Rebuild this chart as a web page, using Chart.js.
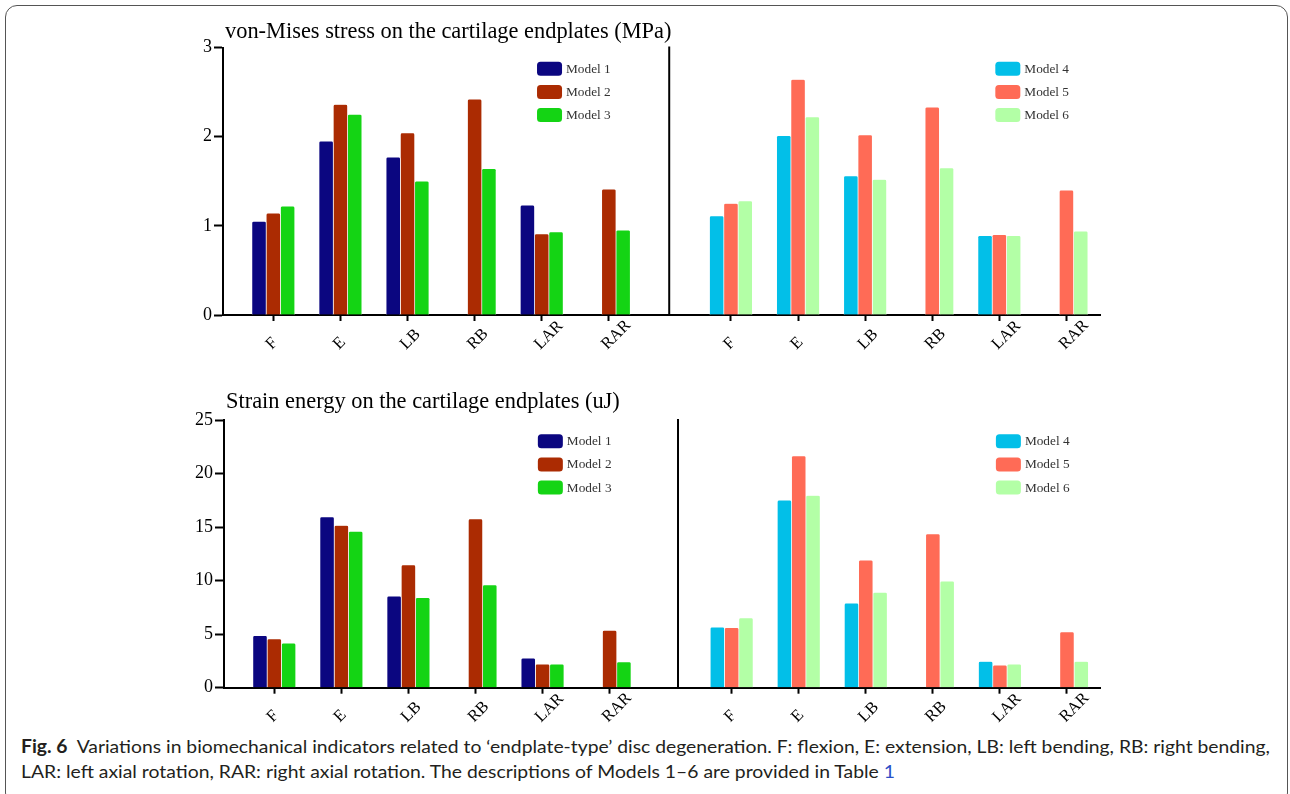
<!DOCTYPE html>
<html>
<head>
<meta charset="utf-8">
<script src="https://cdn.jsdelivr.net/npm/chart.js@4.4.1/dist/chart.umd.min.js"></script>
<style>
  html, body { margin: 0; padding: 0; background: #fff; }
  #page { position: relative; width: 1290px; height: 794px; overflow: hidden; }
  #frame { position: absolute; left: 5px; top: 5px; width: 1283px; height: 800px;
           border: 1.5px solid #555; border-radius: 12px; box-sizing: border-box; }
  canvas { position: absolute; left: 0; }
  #stressChart { top: 0; }
  #strainChart { top: 372px; }
  .cap { position: absolute; left: 21px; white-space: nowrap; line-height: 25px;
         font-family: Lato, "Noto Sans", sans-serif; font-size: 18px; color: #231f20;
         transform-origin: 0 50%; }
</style>
</head>
<body>
<div id="page">
  <div id="frame"></div>
  <canvas id="stressChart" width="1290" height="372"></canvas>
  <canvas id="strainChart" width="1290" height="360"></canvas>
  <div class="cap" id="cap1" data-w="1249" style="top:734px"><b>Fig. 6</b>&nbsp;&nbsp;Variations in biomechanical indicators related to ‘endplate-type’ disc degeneration. F: flexion, E: extension, LB: left bending, RB: right bending,</div>
  <div class="cap" id="cap2" data-w="874" style="top:759px">LAR: left axial rotation, RAR: right axial rotation. The descriptions of Models 1–6 are provided in Table <span style="color:#2b4fc7">1</span></div>
</div>
<script>
  // ── 数据 ──
  const CATEGORIES  = ['F', 'E', 'LB', 'RB', 'LAR', 'RAR'];
  const MODEL_NAMES = ['Model 1', 'Model 2', 'Model 3', 'Model 4', 'Model 5', 'Model 6'];

  const STRESS_TITLE = 'von-Mises stress on the cartilage endplates (MPa)';
  const STRESS_TICKS = [0, 1, 2, 3];
  const STRESS_M1 = [1.05, 1.95, 1.77, null, 1.23, null];
  const STRESS_M2 = [1.14, 2.36, 2.04, 2.42, 0.91, 1.41];
  const STRESS_M3 = [1.22, 2.25, 1.50, 1.64, 0.93, 0.95];
  const STRESS_M4 = [1.11, 2.01, 1.56, null, 0.89, null];
  const STRESS_M5 = [1.25, 2.64, 2.02, 2.33, 0.90, 1.40];
  const STRESS_M6 = [1.28, 2.22, 1.52, 1.65, 0.89, 0.94];

  const STRAIN_TITLE = 'Strain energy on the cartilage endplates (uJ)';
  const STRAIN_TICKS = [0, 5, 10, 15, 20, 25];
  const STRAIN_M1 = [4.85, 15.95, 8.55, null, 2.75, null];
  const STRAIN_M2 = [4.55, 15.15, 11.45, 15.75, 2.20, 5.35];
  const STRAIN_M3 = [4.15, 14.60, 8.40, 9.60, 2.20, 2.40];
  const STRAIN_M4 = [5.65, 17.50, 7.90, null, 2.45, null];
  const STRAIN_M5 = [5.60, 21.65, 11.90, 14.35, 2.10, 5.20];
  const STRAIN_M6 = [6.50, 17.95, 8.90, 9.95, 2.20, 2.45];

  // ── 样式 / 布局 ──
  const MODEL_COLORS = ['#0b0680', '#ab2b02', '#14d414', '#02bfe8', '#ff6b56', '#b3ffa6'];
  const SERIF = '"Liberation Serif", "Times New Roman", serif';
  const LEFT_X0 = 0, RIGHT_X0 = 6.82;       // 左右两组第一个类别的位置
  const X_MIN = -0.75, X_MAX = 12.32;
  const LEGEND_X = [3.93, 10.76];

  Chart.defaults.font.family = SERIF;

  function tickPositions() {
    return CATEGORIES.map((_, i) => LEFT_X0 + i).concat(CATEGORIES.map((_, i) => RIGHT_X0 + i));
  }

  function makeDatasets(series) {
    return series.map((vals, m) => ({
      label: MODEL_NAMES[m],
      stack: 'slot' + (m % 3),
      data: CATEGORIES.map((c, i) => ({ x: (m < 3 ? LEFT_X0 : RIGHT_X0) + i, y: vals[i] })),
      backgroundColor: MODEL_COLORS[m],
      borderColor: 'rgba(255,255,255,0.85)',
      borderWidth: { left: 0.7, right: 0.7, top: 0.6, bottom: 0 },
      borderRadius: { topLeft: 2, topRight: 2 },
      borderSkipped: 'start',
      barThickness: 14.3,
    }));
  }

  // ── 标题、分隔线、x 轴标签、图例 ──
  const panelDecor = {
    id: 'panelDecor',
    afterDraw(chart, args, opts) {
      const { ctx, chartArea, scales: { x } } = chart;
      ctx.save();

      const dx = x.getPixelForValue(opts.divider);
      ctx.strokeStyle = '#000';
      ctx.lineWidth = 2;
      ctx.beginPath();
      ctx.moveTo(dx, chartArea.top - 1);
      ctx.lineTo(dx, chartArea.bottom);
      ctx.stroke();

      ctx.fillStyle = '#000';
      ctx.font = '22.4px ' + SERIF;
      ctx.textAlign = 'left';
      ctx.textBaseline = 'alphabetic';
      ctx.fillText(opts.title, chartArea.left + 2, chartArea.top - opts.titleGap);

      ctx.font = '16.5px ' + SERIF;
      x.ticks.forEach((t, i) => {
        const px = x.getPixelForValue(t.value);
        ctx.save();
        ctx.translate(px - 1.5, chartArea.bottom + 35);
        ctx.rotate(-Math.PI / 4);
        ctx.fillText(CATEGORIES[i % CATEGORIES.length], 0, 0);
        ctx.restore();
      });

      ctx.font = '13.3px ' + SERIF;
      ctx.textBaseline = 'middle';
      LEGEND_X.forEach((lv, g) => {
        const lx = x.getPixelForValue(lv);
        for (let k = 0; k < 3; k++) {
          const ds = chart.data.datasets[g * 3 + k];
          const cy = chartArea.top + 21.2 + k * 23.2;
          ctx.fillStyle = ds.backgroundColor;
          ctx.beginPath();
          ctx.roundRect(lx, cy - 7, 25, 14, 3.5);
          ctx.fill();
          ctx.fillStyle = '#333';
          ctx.fillText(ds.label, lx + 29, cy + 0.5);
        }
      });
      ctx.restore();
    }
  };

  function makeChart(id, cfg) {
    return new Chart(document.getElementById(id), {
      type: 'bar',
      data: { datasets: makeDatasets(cfg.series) },
      options: {
        responsive: false,
        animation: false,
        layout: { padding: cfg.padding },
        plugins: {
          legend: { display: false },
          tooltip: { enabled: false },
          panelDecor: { title: cfg.title, titleGap: cfg.titleGap, divider: cfg.divider },
        },
        scales: {
          x: {
            type: 'linear',
            min: X_MIN,
            max: X_MAX,
            offset: false,
            afterBuildTicks: s => { s.ticks = tickPositions().map(v => ({ value: v })); },
            afterFit: s => { s.height = 10; },
            ticks: { display: false },
            grid: { display: true, drawOnChartArea: false, drawTicks: true, tickLength: 6,
                    tickColor: '#000', tickWidth: 2, offset: false },
            border: { display: true, color: '#000', width: 2 },
          },
          y: {
            min: 0,
            max: cfg.ticks[cfg.ticks.length - 1],
            stacked: false,
            afterBuildTicks: s => { s.ticks = cfg.ticks.map(v => ({ value: v })); },
            afterFit: s => { s.width = 50; },
            ticks: { color: '#000', padding: 2, font: { size: 18, family: SERIF } },
            grid: { display: true, drawOnChartArea: false, drawTicks: true, tickLength: 9,
                    tickColor: '#000', tickWidth: 2 },
            border: { display: true, color: '#000', width: 2 },
          },
        },
      },
      plugins: [panelDecor],
    });
  }

  makeChart('stressChart', {
    series: [STRESS_M1, STRESS_M2, STRESS_M3, STRESS_M4, STRESS_M5, STRESS_M6],
    ticks: STRESS_TICKS,
    title: STRESS_TITLE,
    titleGap: 10,
    divider: 5.9,
    padding: { left: 173, right: 190, top: 47.5, bottom: 47 },
  });

  makeChart('strainChart', {
    series: [STRAIN_M1, STRAIN_M2, STRAIN_M3, STRAIN_M4, STRAIN_M5, STRAIN_M6],
    ticks: STRAIN_TICKS,
    title: STRAIN_TITLE,
    titleGap: 12,
    divider: 6.02,
    padding: { left: 174, right: 189.5, top: 48, bottom: 34.3 },
  });

  // 图注按参考宽度水平缩放
  document.querySelectorAll('.cap').forEach(el => {
    const target = parseFloat(el.dataset.w);
    const w = el.getBoundingClientRect().width;
    if (w > 0) el.style.transform = 'scaleX(' + (target / w).toFixed(4) + ')';
  });
</script>
</body>
</html>
